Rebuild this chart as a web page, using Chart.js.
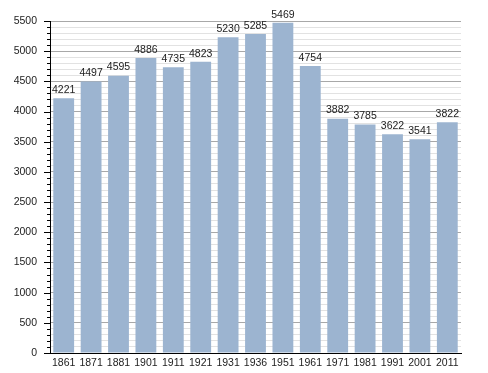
<!DOCTYPE html>
<html>
<head>
<meta charset="utf-8">
<script src="https://cdn.jsdelivr.net/npm/chart.js@4/dist/chart.umd.min.js"></script>
<style>
  html, body { margin: 0; padding: 0; background: #fff; }
  #wrap { width: 488px; height: 373px; }
</style>
</head>
<body>
<div id="wrap"><canvas id="myChart" width="488" height="373"></canvas></div>
<script>
const years = ["1861", "1871", "1881", "1901", "1911", "1921", "1931", "1936", "1951", "1961", "1971", "1981", "1991", "2001", "2011"];
const population = [4221, 4497, 4595, 4886, 4735, 4823, 5230, 5285, 5469, 4754, 3882, 3785, 3622, 3541, 3822];
const yMax = 5500;
const majorStep = 500;
const minorStep = 100;

const FONT = "'Liberation Sans', Arial, sans-serif";

// numbers above bars
const valueLabels = {
    id: "valueLabels",
    afterDatasetsDraw(chart) {
        const ctx = chart.ctx;
        const meta = chart.getDatasetMeta(0);
        ctx.save();
        ctx.font = "10.5px " + FONT;
        ctx.fillStyle = "#222";
        ctx.textAlign = "center";
        ctx.textBaseline = "bottom";
        meta.data.forEach((bar, i) => {
            ctx.fillText(String(population[i]), bar.x, bar.y - 3);
        });
        ctx.restore();
    }
};

// long ticks every 500, short ones every 100
const yTicks = {
    id: "yTicks",
    afterDraw(chart) {
        const ctx = chart.ctx;
        const y = chart.scales.y;
        ctx.save();
        ctx.strokeStyle = "#000";
        ctx.lineWidth = 1;
        for (let v = 0; v <= yMax; v += minorStep) {
            const py = Math.round(y.getPixelForValue(v)) + 0.5;
            const len = v % majorStep === 0 ? 6 : 3;
            ctx.beginPath();
            ctx.moveTo(y.right - len, py);
            ctx.lineTo(y.right, py);
            ctx.stroke();
        }
        ctx.restore();
    }
};

new Chart("myChart", {
    type: "bar",
    data: {
        labels: years,
        datasets: [{
            data: population,
            backgroundColor: "#9cb4d0",
            borderWidth: 0,
            barPercentage: 0.76,
            categoryPercentage: 1.0
        }]
    },
    options: {
        responsive: false,
        animation: false,
        layout: { padding: { top: 21, right: 27, left: 0, bottom: 0 } },
        plugins: { legend: { display: false }, tooltip: { enabled: false } },
        scales: {
            x: {
                grid: { display: false, drawTicks: false },
                border: { color: "#000", width: 1 },
                ticks: { color: "#222", font: { family: FONT, size: 10.5 }, padding: 4, maxRotation: 0, autoSkip: false },
                afterFit(scale) { scale.height = 20; }
            },
            y: {
                min: 0,
                max: yMax,
                grid: {
                    drawTicks: false,
                    color: (c) => (c.tick && c.tick.value % majorStep === 0) ? "#a8a8a8" : "#e2e2e2"
                },
                border: { color: "#000", width: 1 },
                ticks: {
                    stepSize: minorStep,
                    autoSkip: false,
                    color: "#222",
                    font: { family: FONT, size: 10.5 },
                    padding: 13,
                    callback: (v) => v % majorStep === 0 ? String(v) : ""
                },
                afterFit(scale) { scale.width = 50; }
            }
        }
    },
    plugins: [valueLabels, yTicks]
});
</script>
</body>
</html>
